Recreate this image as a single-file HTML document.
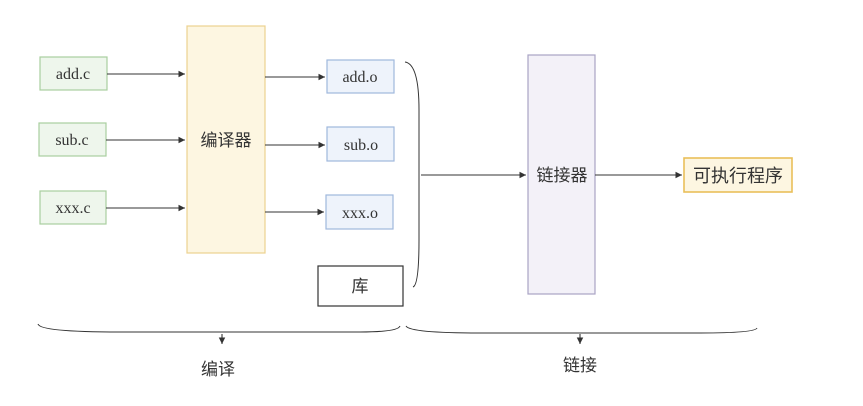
<!DOCTYPE html>
<html><head><meta charset="utf-8"><style>
body{margin:0;background:#fff;width:863px;height:401px;overflow:hidden}
svg text{font-family:"Liberation Serif","Noto Sans CJK SC",serif;font-size:16px;fill:#333}
.cn{font-family:"Liberation Sans","Noto Sans CJK SC",sans-serif;font-size:17px}
</style></head><body>
<svg width="863" height="401" viewBox="0 0 863 401" xmlns="http://www.w3.org/2000/svg">
<defs><marker id="a" markerWidth="8" markerHeight="8" refX="6" refY="3" orient="auto"><path d="M0,0 L6,3 L0,6 z" fill="#333"/></marker></defs>
<g stroke-width="1.2">
<rect x="40" y="57" width="67" height="33" fill="#eef6ec" stroke="#a9cf9f"/>
<rect x="39" y="123" width="67" height="33" fill="#eef6ec" stroke="#a9cf9f"/>
<rect x="40" y="191" width="66" height="33" fill="#eef6ec" stroke="#a9cf9f"/>
<rect x="187" y="26" width="78" height="227" fill="#fdf6e1" stroke="#ecd18f"/>
<rect x="327" y="60" width="67" height="33" fill="#eef3fb" stroke="#9fb8dd"/>
<rect x="327" y="127" width="67" height="34" fill="#eef3fb" stroke="#9fb8dd"/>
<rect x="326" y="195" width="67" height="34" fill="#eef3fb" stroke="#9fb8dd"/>
<rect x="318" y="266" width="85" height="40" fill="#fff" stroke="#333"/>
<rect x="528" y="55" width="67" height="239" fill="#f3f1f8" stroke="#a9a3c4"/>
<rect x="684" y="158" width="108" height="34" fill="#fdf6e1" stroke="#e9bf5a" stroke-width="1.6"/>
</g>
<g stroke="#333" stroke-width="1.1" fill="none" marker-end="url(#a)">
<path d="M107 74 L185 74"/><path d="M106 140 L185 140"/><path d="M106 208 L185 208"/>
<path d="M265 77 L325 77"/><path d="M265 145 L325 145"/><path d="M265 212 L324 212"/>
<path d="M421 175 L526 175"/><path d="M595 175 L682 175"/>
<path d="M222 334 L222 344"/><path d="M580 334 L580 344"/>
</g>
<g stroke="#333" stroke-width="1" fill="none">
<path d="M405 62 Q419 64 419 110 L419 240 Q419 285 413 287"/>
<path d="M38 324 Q40 332 120 332 L360 332 Q398 332 400 326"/>
<path d="M406 326 Q410 333 480 333 L700 333 Q755 333 757 328"/>
</g>
<text x="73" y="79" text-anchor="middle">add.c</text>
<text x="72" y="145" text-anchor="middle">sub.c</text>
<text x="73" y="213" text-anchor="middle">xxx.c</text>
<text x="360" y="82" text-anchor="middle">add.o</text>
<text x="361" y="150" text-anchor="middle">sub.o</text>
<text x="360" y="218" text-anchor="middle">xxx.o</text>
<text class="cn" x="226" y="146" text-anchor="middle">编译器</text>
<text class="cn" x="360" y="292" text-anchor="middle">库</text>
<text class="cn" x="562" y="181" text-anchor="middle">链接器</text>
<text class="cn" x="738" y="182" text-anchor="middle" style="font-size:18px">可执行程序</text>
<text class="cn" x="218" y="375" text-anchor="middle">编译</text>
<text class="cn" x="580" y="371" text-anchor="middle">链接</text>
</svg>
</body></html>
